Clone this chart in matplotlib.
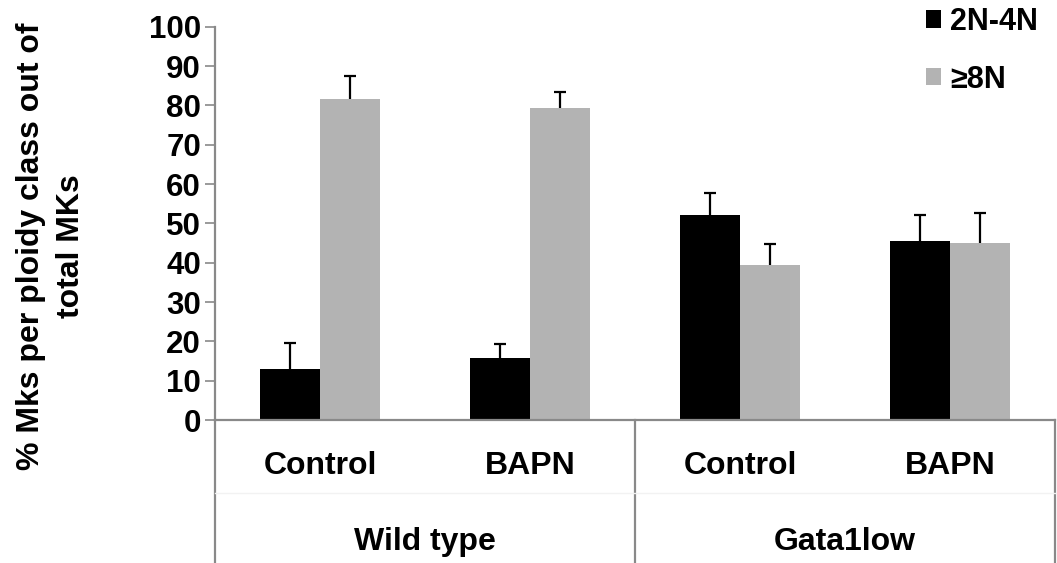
import numpy as np
import matplotlib
matplotlib.use('Agg')
import matplotlib.pyplot as plt
from matplotlib.lines import Line2D

plt.rcParams['font.family'] = ['Liberation Sans', 'DejaVu Sans']
plt.rcParams['font.weight'] = 'bold'

# Datos
treatments = ['Control', 'BAPN', 'Control', 'BAPN']
genotypes = ['Wild type', 'Gata1low']
series_names = ['2N-4N', '\u22658N']
low_ploidy = [12.9, 15.7, 52.2, 45.4]
high_ploidy = [81.5, 79.4, 39.4, 45.1]
low_err = [6.8, 3.6, 5.5, 6.8]
high_err = [6.0, 4.1, 5.4, 7.6]
y_ticks = list(range(0, 101, 10))

axis_grey = '#898989'
bar_grey = '#b3b3b3'

fig = plt.figure(figsize=(10.57, 5.63), dpi=100)
ax = fig.add_axes([215 / 1057, 143 / 563, 840 / 1057, 393.3 / 563])

x = np.arange(len(treatments)) + 0.5
w = 60 / 210
cap = 0.03

b1 = ax.bar(x - w / 2, low_ploidy, width=w, color='black', label=series_names[0])
b2 = ax.bar(x + w / 2, high_ploidy, width=w, color=bar_grey, label=series_names[1])

# Barras de error solo hacia arriba
for xs, vals, errs in [(x - w / 2, low_ploidy, low_err), (x + w / 2, high_ploidy, high_err)]:
    tops = np.array(vals) + np.array(errs)
    ax.vlines(xs, vals, tops, color='black', lw=1.6)
    ax.hlines(tops, xs - cap, xs + cap, color='black', lw=1.6)

ax.set_xlim(0, len(treatments))
ax.set_ylim(0, 100)
ax.set_yticks(y_ticks)
ax.set_yticklabels([str(t) for t in y_ticks], fontsize=22.5, fontweight='bold')
ax.tick_params(axis='y', direction='out', length=7, width=1.2, color=axis_grey, pad=3)

ax.set_xticks(x)
ax.set_xticklabels(treatments, fontsize=23, fontweight='bold')
ax.tick_params(axis='x', length=0, pad=22)

for s in ['top', 'right']:
    ax.spines[s].set_visible(False)
for s in ['left', 'bottom']:
    ax.spines[s].set_color(axis_grey)
    ax.spines[s].set_linewidth(1.6)

# Ejes de categorías en dos niveles
depth = -143 / 393.3
for xf in [0.0, 0.5, 1.0]:
    ax.add_line(Line2D([xf, xf], [0, depth], transform=ax.transAxes,
                       color=axis_grey, lw=1.6, clip_on=False))
ax.add_line(Line2D([0, 1], [-73 / 393.3, -73 / 393.3], transform=ax.transAxes,
                   color='#f2f2f2', lw=1, clip_on=False))

for i, g in enumerate(genotypes):
    ax.text(0.25 + 0.5 * i, -130 / 393.3, g, transform=ax.transAxes,
            ha='center', va='baseline', fontsize=23, fontweight='bold')

fig.text(51 / 1057, 1 - 246 / 563, '% Mks per ploidy class out of\ntotal MKs',
         rotation=90, ha='center', va='center', multialignment='center',
         fontsize=23, fontweight='bold', linespacing=1.4)

fig.legend(handles=[b1, b2], labels=series_names, loc='upper left',
           bbox_to_anchor=(926 / 1057, 1 - 7 / 563), frameon=False,
           borderaxespad=0, borderpad=0, handlelength=0.5, handleheight=0.5,
           handletextpad=0.3, labelspacing=0.9,
           prop={'size': 22, 'weight': 'bold'})

fig.savefig('out.png', dpi=100)
